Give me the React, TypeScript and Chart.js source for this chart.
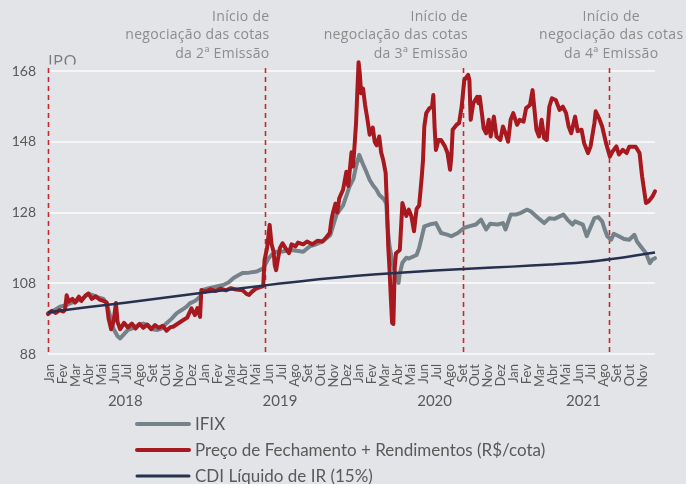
import React, { useEffect, useRef } from "react";
import { Chart, registerables } from "chart.js";

Chart.register(...registerables);

// ---- data ----
const monthLabels = ["Jan", "Fev", "Mar", "Abr", "Mai", "Jun", "Jul", "Ago", "Set", "Out", "Nov", "Dez"];
const yearLabels = ["2018", "2019", "2020", "2021"];
const monthCount = 47; // Jan 2018 .. Nov 2021
const xMax = 47.1;
const yTicks = [88, 108, 128, 148, 168];

const seriesNames = ["IFIX", "Preço de Fechamento + Rendimentos (R$/cota)", "CDI Líquido de IR (15%)"];

// x values are months since Jan 2018
const ifixX = [0, 0.4, 0.93, 1.4, 1.9, 2.4, 2.8, 3.13, 3.5, 3.9, 4.3, 4.55, 4.8, 5.1, 5.4, 5.6, 5.9, 6.2, 6.6, 7.0, 7.4, 7.8, 8.1, 8.5, 8.8, 9.2, 9.6, 9.97, 10.4, 10.75, 11.0, 11.4, 11.8, 12.0, 12.5, 13.0, 13.6, 14.0, 14.4, 14.8, 15.1, 15.6, 16.2, 16.7, 17.1, 17.4, 17.7, 18.2, 18.8, 19.3, 19.8, 20.3, 20.8, 21.3, 21.9, 22.4, 22.9, 23.4, 23.7, 23.9, 24.15, 24.4, 24.7, 24.96, 25.2, 25.5, 25.7, 26.1, 26.25, 26.35, 26.5, 26.8, 27.0, 27.2, 27.3, 27.5, 27.8, 28.0, 28.3, 28.6, 28.8, 29.2, 29.6, 30.1, 30.5, 30.9, 31.3, 31.8, 32.3, 32.8, 33.2, 33.6, 34.0, 34.3, 34.9, 35.3, 35.5, 35.9, 36.3, 36.7, 36.9, 37.2, 37.5, 37.9, 38.5, 38.9, 39.3, 39.7, 40.0, 40.3, 40.7, 40.9, 41.5, 41.8, 42.0, 42.4, 42.7, 43.0, 43.2, 43.4, 43.7, 43.9, 44.3, 44.7, 45.1, 45.5, 45.7, 46.1, 46.4, 46.7, 46.9, 47.1];
const ifixY = [99.5, 100.2, 101.4, 101.8, 102.6, 103.2, 104.0, 105.1, 104.6, 104.0, 103.6, 102.3, 99.0, 95.0, 93.0, 92.4, 93.6, 94.8, 95.3, 96.2, 96.6, 96.0, 95.0, 94.8, 95.2, 96.7, 98.0, 99.5, 100.5, 101.4, 102.3, 103.0, 104.2, 106.1, 106.6, 107.0, 107.5, 108.2, 109.5, 110.3, 110.9, 111.0, 111.3, 112.2, 115.0, 116.2, 116.9, 117.0, 117.4, 117.2, 116.9, 118.4, 119.0, 119.8, 121.6, 127.5, 130.0, 135.4, 137.5, 141.0, 144.3, 142.0, 139.5, 137.2, 135.8, 134.4, 133.0, 131.6, 130.5, 124.0, 118.4, 112.8, 110.0, 108.1, 110.9, 113.8, 115.2, 115.0, 115.5, 116.0, 118.0, 124.1, 124.6, 125.0, 122.2, 121.8, 121.3, 122.2, 123.7, 124.2, 124.6, 126.0, 123.2, 124.8, 124.6, 125.0, 123.2, 127.4, 127.4, 127.9, 128.3, 128.8, 128.2, 126.9, 125.0, 126.4, 126.2, 126.9, 127.4, 126.0, 124.6, 125.5, 124.6, 121.3, 123.0, 126.4, 126.7, 125.5, 123.2, 121.3, 120.3, 122.0, 121.3, 120.5, 120.3, 121.7, 119.8, 117.9, 116.5, 113.7, 114.7, 115.1];

const precoX = [0, 0.3, 0.6, 0.9, 1.2, 1.32, 1.45, 1.6, 1.9, 2.1, 2.4, 2.6, 2.9, 3.13, 3.4, 3.7, 4.0, 4.3, 4.55, 4.7, 4.9, 5.1, 5.27, 5.4, 5.6, 5.9, 6.2, 6.5, 6.8, 7.1, 7.4, 7.7, 8.0, 8.3, 8.6, 8.9, 9.2, 9.5, 9.71, 10.0, 10.5, 10.8, 11.13, 11.4, 11.6, 11.8, 11.9, 12.2, 12.6, 13.0, 13.4, 13.8, 14.2, 14.6, 15.1, 15.4, 15.6, 15.8, 16.1, 16.4, 16.7, 16.8, 17.0, 17.2, 17.35, 17.5, 17.6, 17.7, 17.85, 18.0, 18.2, 18.5, 18.7, 18.9, 19.2, 19.4, 19.8, 20.1, 20.5, 20.9, 21.3, 21.6, 21.86, 22.0, 22.1, 22.3, 22.45, 22.6, 22.9, 23.15, 23.3, 23.55, 23.67, 23.8, 23.9, 24.0, 24.1, 24.2, 24.3, 24.45, 24.6, 24.8, 24.96, 25.2, 25.35, 25.5, 25.7, 25.85, 26.0, 26.2, 26.3, 26.4, 26.5, 26.6, 26.7, 26.8, 26.9, 27.0, 27.3, 27.5, 27.8, 28.0, 28.2, 28.4, 28.6, 28.8, 29.0, 29.1, 29.2, 29.35, 29.6, 29.8, 29.9, 30.0, 30.1, 30.3, 30.5, 30.8, 31.0, 31.2, 31.3, 31.4, 31.7, 31.9, 32.1, 32.2, 32.3, 32.6, 32.7, 32.8, 33.0, 33.3, 33.4, 33.5, 33.7, 33.8, 34.0, 34.2, 34.35, 34.6, 34.8, 35.1, 35.3, 35.5, 35.7, 35.9, 36.1, 36.4, 36.6, 36.9, 37.1, 37.4, 37.6, 37.75, 37.9, 38.1, 38.3, 38.5, 38.7, 38.9, 39.1, 39.4, 39.7, 39.95, 40.2, 40.4, 40.6, 40.9, 41.1, 41.4, 41.6, 41.9, 42.1, 42.4, 42.5, 42.75, 43.0, 43.3, 43.6, 43.8, 44.1, 44.3, 44.6, 44.9, 45.1, 45.6, 45.9, 46.1, 46.4, 46.6, 46.9, 47.1];
const precoY = [99.3, 100.2, 99.6, 100.4, 100.0, 100.5, 104.6, 102.8, 103.6, 102.5, 104.2, 103.0, 104.5, 105.1, 103.6, 104.3, 103.4, 103.0, 102.6, 98.0, 95.0, 97.5, 102.4, 97.0, 95.0, 96.8, 95.5, 96.6, 95.2, 96.5, 95.4, 96.3, 95.0, 96.2, 95.4, 96.0, 94.6, 95.6, 95.7, 96.4, 97.6, 98.3, 100.9, 99.0, 101.0, 98.5, 106.1, 105.6, 106.3, 105.8, 106.5, 106.0, 106.6, 106.2, 106.0, 105.0, 104.7, 105.5, 106.4, 106.8, 107.2, 114.5, 118.0, 124.5, 119.0, 117.0, 113.0, 111.7, 115.0, 118.0, 119.3, 117.5, 116.5, 119.0, 118.4, 119.5, 119.0, 119.8, 119.0, 120.0, 119.8, 121.0, 122.2, 126.0, 127.8, 130.5, 128.0, 132.0, 134.5, 139.5, 135.5, 145.0, 141.0, 147.6, 153.0, 162.0, 170.5, 167.0, 161.7, 163.0, 158.5, 154.0, 150.0, 152.0, 148.0, 147.0, 149.5, 145.0, 143.0, 139.2, 130.0, 118.4, 112.0, 104.0, 96.8, 96.5, 112.0, 116.5, 117.4, 130.7, 127.0, 128.8, 126.9, 122.7, 129.0, 130.0, 138.0, 142.9, 152.3, 156.1, 157.5, 157.9, 161.2, 152.0, 145.7, 148.5, 148.5, 146.7, 144.8, 140.1, 143.8, 151.4, 152.8, 153.3, 158.0, 161.7, 165.4, 166.9, 165.4, 154.2, 158.9, 160.7, 158.9, 160.7, 155.1, 151.8, 150.4, 154.2, 149.5, 155.1, 149.5, 148.5, 152.3, 150.4, 148.0, 154.2, 156.1, 152.8, 154.2, 153.7, 157.5, 158.4, 162.6, 157.0, 151.4, 149.5, 154.2, 149.0, 148.5, 157.9, 160.3, 159.8, 157.0, 157.9, 156.1, 152.3, 150.4, 155.1, 151.0, 151.4, 147.6, 144.8, 146.7, 153.3, 156.6, 154.7, 152.3, 147.6, 143.8, 145.2, 146.7, 144.4, 145.7, 144.8, 146.6, 146.6, 144.8, 138.2, 130.7, 131.1, 132.5, 134.0];

const cdiX = [0, 3, 6, 9, 12, 15, 18, 21, 24, 27, 30, 33, 36, 39, 42, 45, 47.1];
const cdiY = [99.8, 101.2, 102.5, 103.9, 105.3, 106.6, 107.9, 109.1, 110.1, 110.9, 111.6, 112.2, 112.7, 113.3, 114.1, 115.5, 116.7];

// event markers (month position) and their captions
const eventX = [0, 16.8, 32.2, 43.55];
const eventCaptions = [
  ["IPO"],
  ["Início de", "negociação das cotas", "da 2ª Emissão"],
  ["Início de", "negociação das cotas", "da 3ª Emissão"],
  ["Início de", "negociação das cotas", "da 4ª Emissão"],
];

const colors = {
  bg: "#e3e4e7",
  grid: "#f6f6f7",
  ifix: "#76828a",
  preco: "#a8191f",
  cdi: "#26304f",
  dash: "#c62a31",
  tick: "#595959",
  note: "#8c8c8c",
};

function pts(xs: number[], ys: number[]) {
  return xs.map((x, i) => ({ x, y: ys[i] }));
}

export default function App() {
  const ref = useRef<HTMLCanvasElement | null>(null);

  useEffect(() => {
    document.body.style.margin = "0";
    document.body.style.background = colors.bg;
    const canvas = ref.current!;

    const decorPlugin = {
      id: "decor",
      beforeDraw(chart: any) {
        const { ctx, width, height } = chart;
        ctx.save();
        ctx.fillStyle = colors.bg;
        ctx.fillRect(0, 0, width, height);
        ctx.restore();
      },
      beforeDatasetsDraw(chart: any) {
        const { ctx, chartArea, scales } = chart;
        const xs = scales.x;
        ctx.save();
        ctx.strokeStyle = colors.dash;
        ctx.lineWidth = 1.6;
        ctx.setLineDash([5, 4]);
        eventX.forEach((v) => {
          const px = Math.round(xs.getPixelForValue(v)) + 0.5;
          ctx.beginPath();
          ctx.moveTo(px, chartArea.top - 3);
          ctx.lineTo(px, chartArea.bottom);
          ctx.stroke();
        });
        ctx.restore();
      },
      afterDraw(chart: any) {
        const { ctx, chartArea, scales } = chart;
        const xs = scales.x;
        ctx.save();
        // captions
        ctx.fillStyle = colors.note;
        ctx.font = "14px 'Open Sans'";
        ctx.textBaseline = "middle";
        try { (ctx as any).letterSpacing = "0.3px"; } catch (e) {}
        eventCaptions.forEach((lines, i) => {
          const px = xs.getPixelForValue(eventX[i]);
          if (i === 0) {
            ctx.save();
            ctx.beginPath();
            ctx.rect(0, 0, 200, chartArea.top - 6.5);
            ctx.clip();
            ctx.fillStyle = "#7a7a7a";
            ctx.font = "17px 'Open Sans'";
            ctx.textAlign = "left";
            ctx.textBaseline = "alphabetic";
            ctx.fillText(lines[0], px, chartArea.top - 4);
            ctx.restore();
            return;
          }
          const centered = i === eventCaptions.length - 1;
          ctx.textAlign = centered ? "center" : "right";
          const ax = centered ? px + 2 : px + 5;
          lines.forEach((t, j) => {
            ctx.fillText(t, ax, 17 + j * 18.5);
          });
        });
        try { (ctx as any).letterSpacing = "0px"; } catch (e) {}
        // year labels
        ctx.fillStyle = colors.tick;
        ctx.font = "15px Lato";
        ctx.textAlign = "center";
        ctx.textBaseline = "middle";
        yearLabels.forEach((y, i) => {
          const s = i * 12;
          const e = Math.min(s + 12, xMax);
          ctx.fillText(y, xs.getPixelForValue((s + e) / 2), 401);
        });
        // legend
        const items = [
          { c: colors.ifix, w: 4 },
          { c: colors.preco, w: 4 },
          { c: colors.cdi, w: 3 },
        ];
        ctx.font = "17px Lato";
        ctx.textAlign = "left";
        items.forEach((it, i) => {
          const y = 424 + i * 26;
          ctx.strokeStyle = it.c;
          ctx.lineWidth = it.w;
          ctx.lineCap = "round";
          ctx.beginPath();
          ctx.moveTo(137, y);
          ctx.lineTo(189, y);
          ctx.stroke();
          ctx.fillStyle = colors.tick;
          ctx.fillText(seriesNames[i], 195, y + 1);
        });
        ctx.restore();
      },
    };

    const chart = new Chart(canvas, {
      type: "line",
      data: {
        datasets: [
          {
            label: seriesNames[2],
            data: pts(cdiX, cdiY),
            borderColor: colors.cdi,
            borderWidth: 2.5,
            pointRadius: 0,
            tension: 0.3,
            clip: false as any,
          },
          {
            label: seriesNames[1],
            data: pts(precoX, precoY),
            borderColor: colors.preco,
            borderWidth: 4,
            pointRadius: 0,
            borderJoinStyle: "round",
            borderCapStyle: "round",
            clip: false as any,
          },
          {
            label: seriesNames[0],
            data: pts(ifixX, ifixY),
            borderColor: colors.ifix,
            borderWidth: 4,
            pointRadius: 0,
            borderJoinStyle: "round",
            borderCapStyle: "round",
            clip: false as any,
          },
        ],
      },
      options: {
        responsive: false,
        animation: false,
        devicePixelRatio: 1,
        layout: { padding: { top: 71, right: 31, left: 0, bottom: 0 } },
        plugins: { legend: { display: false }, tooltip: { enabled: false } },
        scales: {
          x: {
            type: "linear",
            min: 0,
            max: xMax,
            grid: { display: false },
            border: { display: false },
            afterBuildTicks: (s: any) => {
              s.ticks = Array.from({ length: monthCount }, (_, i) => ({ value: i + 0.15 }));
            },
            afterFit: (s: any) => {
              s.height = 130;
            },
            ticks: {
              autoSkip: false,
              minRotation: 90,
              maxRotation: 90,
              padding: 2,
              color: colors.tick,
              font: { family: "Lato", size: 13 },
              callback: (_v: any, i: number) => monthLabels[i % 12],
            },
          },
          y: {
            min: 88,
            max: 168,
            afterBuildTicks: (s: any) => {
              s.ticks = yTicks.map((v) => ({ value: v }));
            },
            afterFit: (s: any) => {
              s.width = 48;
            },
            grid: { color: colors.grid, lineWidth: 2, drawTicks: false },
            border: { display: false },
            ticks: {
              padding: 12,
              color: colors.tick,
              font: { family: "Lato", size: 14 },
            },
          },
        },
      },
      plugins: [decorPlugin],
    });

    return () => chart.destroy();
  }, []);

  return (
    <div style={{ width: 686, height: 484 }}>
      <canvas ref={ref} width={686} height={484} style={{ display: "block" }} />
    </div>
  );
}
